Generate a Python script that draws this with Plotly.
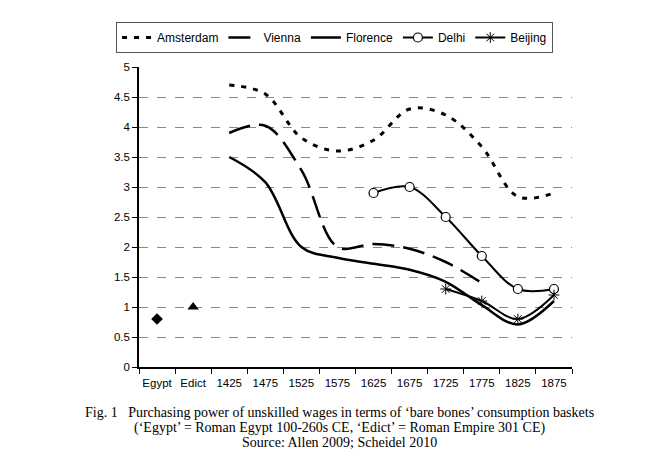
import plotly.graph_objects as go

categories = ["Egypt", "Edict", "1425", "1475", "1525", "1575", "1625", "1675", "1725", "1775", "1825", "1875"]

amsterdam = [None, None, 4.7, 4.55, 3.82, 3.6, 3.78, 4.3, 4.2, 3.67, 2.84, 2.9]
vienna = [None, None, 3.9, 4.02, 3.28, 2.0, 2.05, 1.97, 1.75, 1.4, None, None]
florence = [None, None, 3.5, 3.08, 2.0, 1.82, 1.72, 1.62, 1.42, 1.03, 0.71, 1.1]
delhi = [None, None, None, None, None, None, 2.9, 3.0, 2.5, 1.85, 1.3, 1.3]
beijing = [None, None, None, None, None, None, None, None, 1.3, 1.1, 0.8, 1.2]
egypt = [0.8]
edict = [1.0]

ytick_vals = [0, 0.5, 1, 1.5, 2, 2.5, 3, 3.5, 4, 4.5, 5]
ytick_text = ["0", "0.5", "1", "1.5", "2", "2.5", "3", "3.5", "4", "4.5", "5"]

caption = [
    "Fig. 1\u00a0\u00a0\u00a0Purchasing power of unskilled wages in terms of \u2018bare bones\u2019 consumption baskets",
    "(\u2018Egypt\u2019 = Roman Egypt 100-260s CE, \u2018Edict\u2019 = Roman Empire 301 CE)",
    "Source: Allen 2009; Scheidel 2010",
]

fig = go.Figure()

def add_line(name, vals, dash, width, marker=None):
    xs = [c for c, v in zip(categories, vals) if v is not None]
    ys = [v for v in vals if v is not None]
    mode = "lines+markers" if marker else "lines"
    fig.add_trace(go.Scatter(
        x=xs, y=ys, name=name, mode=mode,
        line=dict(color="black", width=width, dash=dash, shape="spline", smoothing=1.0),
        marker=marker, showlegend=True,
    ))

add_line("Amsterdam", amsterdam, "5px,7px", 3)
add_line("Vienna", vienna, "22px,9px", 2.5)
add_line("Florence", florence, "solid", 2.5)
add_line("Delhi", delhi, "solid", 2,
         marker=dict(symbol="circle", size=9, color="white", line=dict(color="black", width=1.2)))
add_line("Beijing", beijing, "solid", 2,
         marker=dict(symbol="asterisk-open", size=9, color="black", line=dict(color="black", width=1)))

fig.add_trace(go.Scatter(x=["Egypt"], y=egypt, mode="markers", showlegend=False,
                         marker=dict(symbol="diamond", size=9, color="black")))
fig.add_trace(go.Scatter(x=["Edict"], y=edict, mode="markers", showlegend=False,
                         marker=dict(symbol="triangle-up", size=10, color="black")))

for i, t in enumerate(caption):
    fig.add_annotation(text=t, xref="paper", yref="paper", x=0.462, y=-0.153 - i * 0.049,
                       xanchor="center", yanchor="middle", showarrow=False,
                       font=dict(family="Liberation Serif", size=14, color="black"))

# the page body adds an 8px offset, so the figure is shrunk/shifted to compensate
fig.update_layout(
    width=660, height=465,
    margin=dict(l=131, r=96, t=59, b=106),
    paper_bgcolor="white", plot_bgcolor="white",
    font=dict(family="Liberation Sans", size=11.5, color="black"),
    legend=dict(orientation="h", x=-0.053, y=1.15, xanchor="left", yanchor="top",
                bordercolor="#555", borderwidth=1, font=dict(size=12),
                itemwidth=30, tracegroupgap=0),
    xaxis=dict(type="category", categoryorder="array", categoryarray=categories,
               range=[-0.5, 11.5], showgrid=False, showline=True, linecolor="black", linewidth=1.5,
               ticks="outside", ticklen=5, tickcolor="black", tickson="boundaries",
               tickangle=0, automargin=False, zeroline=False, ticklabelstandoff=4),
    yaxis=dict(range=[0, 5], tickvals=ytick_vals, ticktext=ytick_text,
               showgrid=True, gridcolor="#888", griddash="dash", gridwidth=1,
               showline=True, linecolor="black", linewidth=1.5, ticks="outside", ticklen=5,
               tickcolor="black", automargin=False, zeroline=False),
)

fig.write_html("out.html")
